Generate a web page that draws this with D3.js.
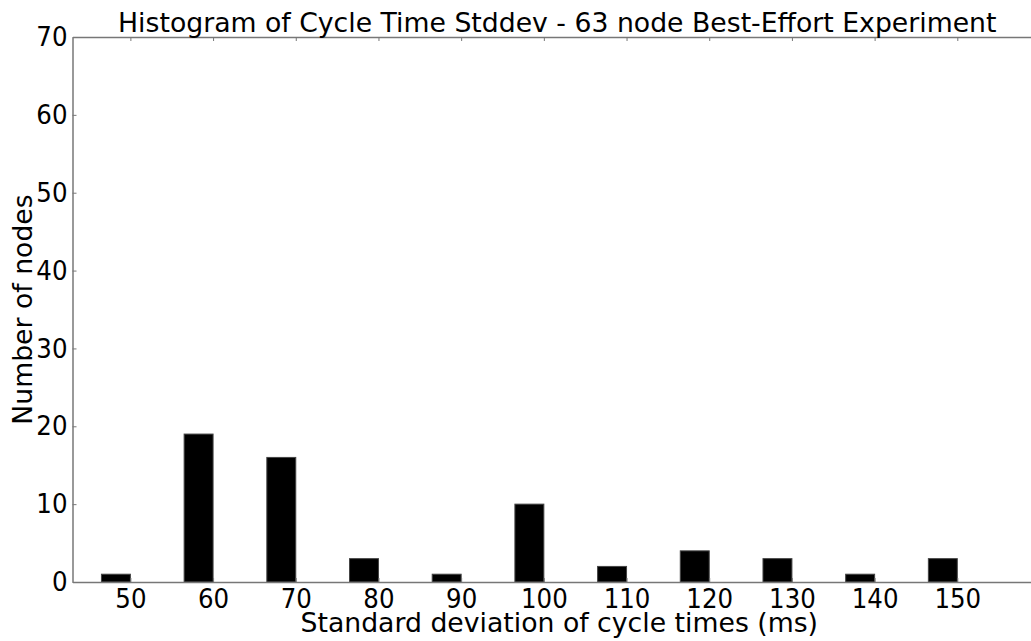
<!DOCTYPE html>
<html><head><meta charset="utf-8">
<script src="https://cdn.jsdelivr.net/npm/d3@7"></script>
<style>body{margin:0;background:#fff;overflow:hidden}text{font-family:"DejaVu Sans",sans-serif;fill:#000}</style>
</head><body><svg id="c" width="1031" height="641"></svg>
<script>
const categories = ["50","60","70","80","90","100","110","120","130","140","150"];
const counts = [1,19,16,3,1,10,2,4,3,1,3];
const yTicks = [0,10,20,30,40,50,60,70];
const title = "Histogram of Cycle Time Stddev - 63 node Best-Effort Experiment";
const xLabel = "Standard deviation of cycle times (ms)";
const yLabel = "Number of nodes";

const barWidth = 0.35;
const svg = d3.select("#c");
const L = 72.5, R = 1040, T = 37, B = 582;
const x = d3.scaleLinear().domain([-0.35, 11.35]).range([L, R]);
const y = d3.scaleLinear().domain([0, 70]).range([B, T]);
const axisColor = "#777";

// bars
svg.append("g").selectAll("rect").data(counts).join("rect")
  .attr("x", (d,i) => x(i))
  .attr("width", x(barWidth) - x(0))
  .attr("y", d => y(d))
  .attr("height", d => y(0) - y(d))
  .attr("fill", "#000").attr("stroke", "#444").attr("stroke-width", 1);

// bottom axis (ticks inward)
const xt = categories.map((c,i) => i + barWidth);
const xAxis = d3.axisBottom(x).tickValues(xt).tickFormat((d,i) => categories[i]).tickSizeInner(-4).tickSizeOuter(0).tickPadding(6);
const gx = svg.append("g").attr("transform", `translate(0,${B})`).call(xAxis);
gx.selectAll("text").attr("font-size", 24.5).attr("dy", "0.71em").attr("transform", "scale(1,1.1)");
const xTop = d3.axisTop(x).tickValues(xt).tickFormat("").tickSizeInner(-4).tickSizeOuter(0);
const gxt = svg.append("g").attr("transform", `translate(0,${T})`).call(xTop);

const yAxis = d3.axisLeft(y).tickValues(yTicks).tickSizeInner(-4).tickSizeOuter(0).tickPadding(5);
const gy = svg.append("g").attr("transform", `translate(${L},0)`).call(yAxis);
gy.selectAll("text").attr("font-size", 24.5).attr("transform", "scale(1,1.1)");

[gx, gxt, gy].forEach(g => {
  g.select(".domain").attr("stroke", axisColor).attr("stroke-width", 1.5);
  g.selectAll(".tick line").attr("stroke", axisColor);
  g.attr("font-family", null);
});

svg.append("text").attr("x", (L+R)/2 + 1).attr("y", 32).attr("text-anchor", "middle").attr("font-size", 26.7).text(title);
svg.append("text").attr("x", (L+R)/2 + 3).attr("y", 632).attr("text-anchor", "middle").attr("font-size", 26.7).text(xLabel);
svg.append("text").attr("transform", `translate(32,${(T+B)/2}) rotate(-90)`).attr("text-anchor", "middle").attr("font-size", 26.7).text(yLabel);
</script></body></html>
